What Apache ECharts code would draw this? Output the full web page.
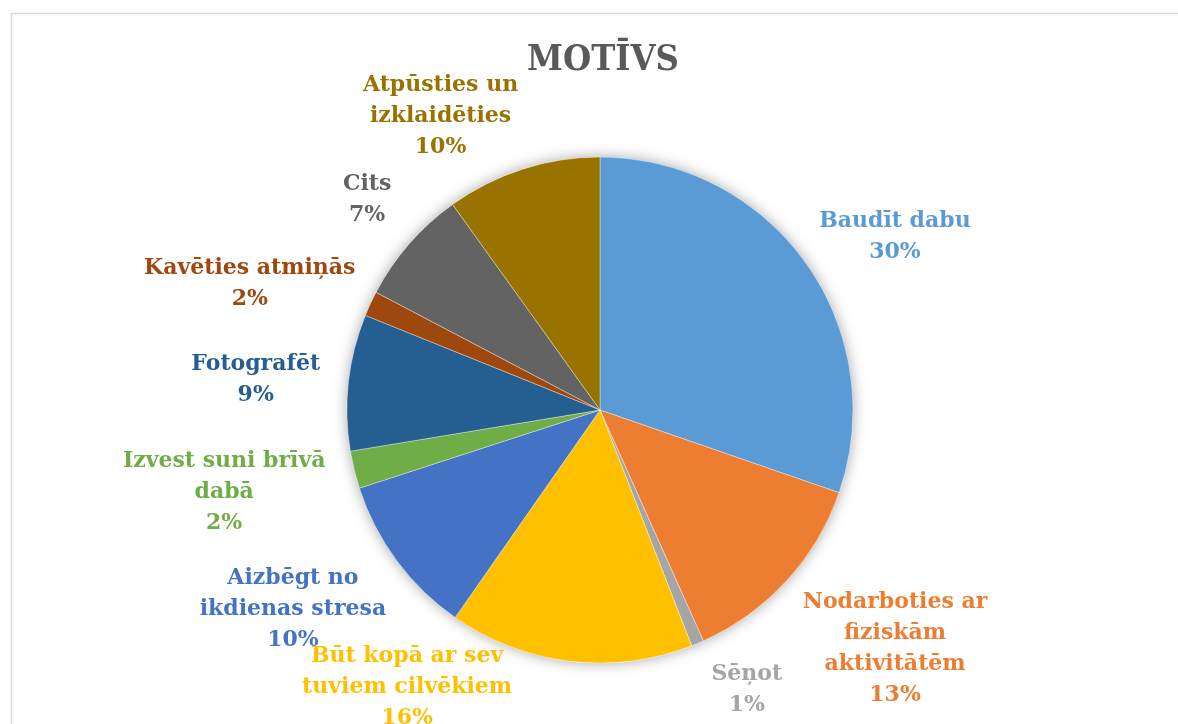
<!DOCTYPE html>
<html>
<head>
<meta charset="utf-8">
<script src="https://cdn.jsdelivr.net/npm/echarts@6/dist/echarts.min.js"></script>
<style>
html,body{margin:0;padding:0;background:#fff;}
#main{width:1178px;height:724px;}
</style>
</head>
<body>
<div id="main"></div>
<script>
// ---- data ----
var titleText = 'MOTĪVS';
var categories = [
  'Baudīt dabu',
  'Nodarboties ar\nfiziskām\naktivitātēm',
  'Sēņot',
  'Būt kopā ar sev\ntuviem cilvēkiem',
  'Aizbēgt no\nikdienas stresa',
  'Izvest suni brīvā\ndabā',
  'Fotografēt',
  'Kavēties atmiņās',
  'Cits',
  'Atpūsties un\nizklaidēties'
];
var values = [30.3, 13.0, 0.8, 15.6, 10.3, 2.4, 8.7, 1.6, 7.4, 9.9];
var colors = ['#5B9BD5', '#ED7D31', '#A5A5A5', '#FFC000', '#4472C4',
              '#70AD47', '#255E91', '#9E480E', '#636363', '#997300'];
// label angle nudges (degrees), style only
var labelNudge = [5, -3.5, -5, 28, 3.5, 1.4, -1.3, -5, 1, -10.7];

// ---- layout ----
var CX = 600, CY = 410, R = 253, GAP = 28;
var FONT = '"DejaVu Serif", "Liberation Serif", serif';
var TITLE_FONT = '"DejaVu Serif Condensed", "DejaVu Serif", serif';

var total = values.reduce(function (a, b) { return a + b; }, 0);
var midAngles = [];
(function () {
  var c = 0;
  for (var i = 0; i < values.length; i++) {
    midAngles.push((c + values[i] / 2) / total * 360);
    c += values[i];
  }
})();

var chart = echarts.init(document.getElementById('main'));
var data = categories.map(function (n, i) {
  return {
    name: n, value: values[i],
    itemStyle: { color: colors[i] },
    label: { color: colors[i] }
  };
});

chart.setOption({
  animation: false,
  title: {
    text: titleText, left: 598, textAlign: 'center', top: 38,
    textStyle: { fontFamily: TITLE_FONT, fontWeight: 'bold', fontSize: 36, color: '#595959' }
  },
  graphic: [{
    type: 'rect', silent: true, z: -1,
    shape: { x: 11.5, y: 13.5, width: 1300, height: 900 },
    style: { fill: 'none', stroke: '#D9D9D9', lineWidth: 1.5 }
  }],
  series: [{
    type: 'pie', silent: true, z: 1,
    center: [CX, CY], radius: R, startAngle: 90,
    label: { show: false }, labelLine: { show: false },
    itemStyle: { color: '#ffffff', shadowBlur: 14, shadowColor: 'rgba(0,0,0,0.35)' },
    data: [{ value: 1, name: '' }]
  }, {
    type: 'pie', z: 2,
    center: [CX, CY], radius: R, startAngle: 90, clockwise: true,
    avoidLabelOverlap: false,
    itemStyle: { borderColor: 'rgba(255,255,255,0.6)', borderWidth: 0.6 },
    label: {
      show: true, position: 'outside',
      fontFamily: FONT, fontWeight: 'bold', fontSize: 22, lineHeight: 31,
      align: 'center',
      formatter: function (p) { return p.name + '\n' + Math.round(p.percent) + '%'; }
    },
    labelLine: { show: false, length: 5, length2: 5 },
    labelLayout: function (p) {
      var i = p.dataIndex;
      var th = (midAngles[i] + labelNudge[i]) * Math.PI / 180;
      var sx = Math.sin(th), sy = -Math.cos(th);
      var hw = p.labelRect.width / 2, hh = p.labelRect.height / 2;
      var ext = Math.min(Math.abs(sx) > 1e-6 ? hw / Math.abs(sx) : 1e9,
                         Math.abs(sy) > 1e-6 ? hh / Math.abs(sy) : 1e9);
      var d = R + GAP + ext;
      return { x: CX + d * sx, y: CY + d * sy, align: 'center', verticalAlign: 'middle' };
    },
    data: data
  }]
});
</script>
</body>
</html>
